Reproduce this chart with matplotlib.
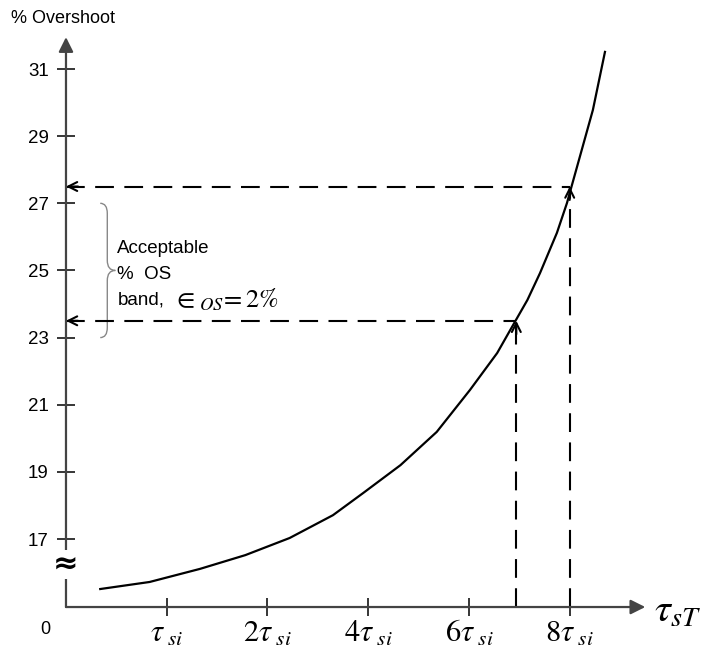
import matplotlib
matplotlib.use("Agg")
import matplotlib.pyplot as plt
from matplotlib.path import Path
from matplotlib.patches import PathPatch

plt.rcParams['font.family'] = ['Liberation Sans', 'DejaVu Sans']
plt.rcParams['mathtext.fontset'] = 'stix'

# ---- data ----
curve_x = [0.34, 0.83, 1.33, 1.78, 2.22, 2.65, 2.95, 3.32, 3.68, 4.01, 4.28, 4.46,
           4.58, 4.705, 4.873, 4.973, 5.02, 5.10, 5.23, 5.35]
curve_y = [15.51, 15.72, 16.11, 16.52, 17.03, 17.71, 18.37, 19.20, 20.19, 21.44, 22.54, 23.49,
           24.12, 24.92, 26.12, 27.01, 27.52, 28.38, 29.78, 31.51]
y_ticks = [17, 19, 21, 23, 25, 27, 29, 31]
x_ticks = [1, 2, 3, 4, 5]
x_tick_labels = [r'$\tau_{\ si}$', r'$2\tau_{\ si}$', r'$4\tau_{\ si}$', r'$6\tau_{\ si}$', r'$8\tau_{\ si}$']
band_x = [4.47, 5.0]      # tau values where the curve crosses the band limits
band_y = [23.5, 27.5]     # acceptable %OS band limits

# ---- layout ----
fig = plt.figure(figsize=(7.04, 6.65), dpi=100)
ax = fig.add_axes([0, 0, 1, 1])
ax.set_xlim(-0.655, 6.333)
ax.set_ylim(13.247, 33.056)
y0 = 14.974  # x-axis level
ax.patch.set_visible(False)

for s in ['top', 'right']:
    ax.spines[s].set_visible(False)
ax.spines['left'].set_position(('data', 0))
ax.spines['bottom'].set_position(('data', y0))
ax.spines['left'].set_visible(False)
ax.spines['bottom'].set_visible(False)

axis_col = '#444444'
ax.annotate('', xy=(0, 31.95), xytext=(0, y0),
            arrowprops=dict(arrowstyle='-|>', color=axis_col, lw=1.6,
                            mutation_scale=22, shrinkA=0, shrinkB=0))
ax.annotate('', xy=(5.75, y0), xytext=(0, y0),
            arrowprops=dict(arrowstyle='-|>', color=axis_col, lw=1.6,
                            mutation_scale=22, shrinkA=0, shrinkB=0))

ax.set_yticks(y_ticks)
ax.set_yticklabels([str(v) for v in y_ticks])
ax.set_xticks(x_ticks)
ax.set_xticklabels(x_tick_labels)
ax.tick_params(axis='y', direction='inout', length=13, width=1.1, color='black',
               labelsize=13.5, pad=6)
ax.tick_params(axis='x', direction='inout', length=13, width=1.1, color='black',
               labelsize=22, pad=2)

# curve
ax.plot(curve_x, curve_y, color='black', lw=1.6, solid_joinstyle='round')

# dashed guides
dash = (9, 5)
for bx, by in zip(band_x, band_y):
    ax.plot([0, bx], [by, by], color='black', lw=1.5, dashes=dash)
    ax.plot([bx, bx], [y0, by], color='black', lw=1.5, dashes=dash)
    ax.annotate('', xy=(0, by), xytext=(0.12, by),
                arrowprops=dict(arrowstyle='->', color='black', lw=1.5,
                                mutation_scale=16, shrinkA=0, shrinkB=0))
    ax.annotate('', xy=(bx, by), xytext=(bx, by - 0.4),
                arrowprops=dict(arrowstyle='->', color='black', lw=1.5,
                                mutation_scale=16, shrinkA=0, shrinkB=0))

# axis break symbol
ax.text(0, 16.23, '≈', ha='center', va='center', fontsize=22, fontweight='bold',
        family='DejaVu Sans',
        bbox=dict(boxstyle='square,pad=0', fc='white', ec='none'))

# labels
ax.text(-0.55, 32.5, '% Overshoot', ha='left', va='center', fontsize=13)
ax.text(-0.21, 14.3, '0', ha='center', va='center', fontsize=13)
ax.text(5.84, 14.55, r'$\tau_{sT}$', ha='left', va='baseline', fontsize=29)

# brace
bl, bm, bt = 0.34, 0.41, 0.49
ytop, ymid, ybot = 27.0, 25.0, 23.0
verts = [(bl, ytop), (bm, ytop), (bm, ytop - 0.3),
         (bm, ymid + 0.3),
         (bm, ymid), (bt, ymid),
         (bm, ymid), (bm, ymid - 0.3),
         (bm, ybot + 0.3),
         (bm, ybot), (bl, ybot)]
codes = [Path.MOVETO, Path.CURVE3, Path.CURVE3,
         Path.LINETO,
         Path.CURVE3, Path.CURVE3,
         Path.CURVE3, Path.CURVE3,
         Path.LINETO,
         Path.CURVE3, Path.CURVE3]
ax.add_patch(PathPatch(Path(verts, codes), fc='none', ec='#888888', lw=1.0))

ax.text(0.51, 25.65, 'Acceptable', ha='left', va='center', fontsize=13.5)
ax.text(0.51, 24.87, '%  OS', ha='left', va='center', fontsize=13.5)
ax.text(0.51, 24.12, 'band,', ha='left', va='center', fontsize=13.5)
ax.text(1.06, 24.12, r'$\in_{OS}\!=2\%$', ha='left', va='center', fontsize=19)

fig.savefig('out.png', dpi=100)
